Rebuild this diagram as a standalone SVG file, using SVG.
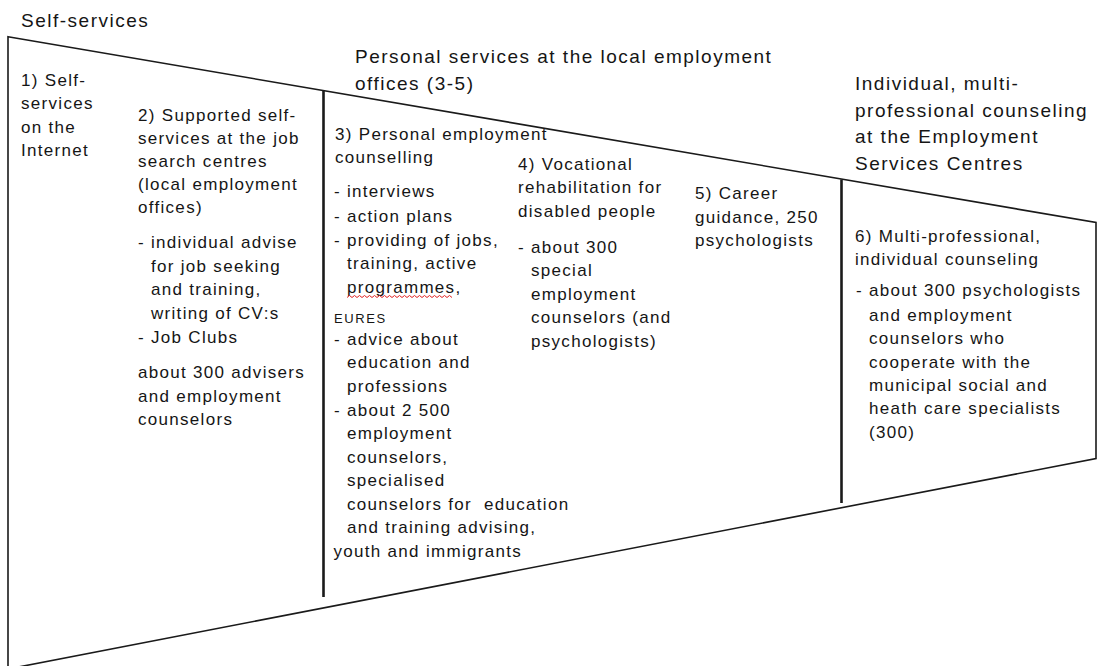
<svg xmlns="http://www.w3.org/2000/svg" width="1100" height="666" viewBox="0 0 1100 666">
<style>
text{font-family:"Liberation Sans",Arial,sans-serif;fill:#151515}
.t{font-size:19px;letter-spacing:1.5px}
.b{font-size:17px;letter-spacing:1.3px}
.s{font-size:13px;letter-spacing:1.6px}
.edge{fill:none;stroke:#1a1a1a;stroke-width:1.6}
.div{fill:none;stroke:#1a1a1a;stroke-width:2.6}
</style>
<rect width="1100" height="666" fill="#fff"/>
<g id="connectors">
<polygon class="edge" points="8,36.7 1096,222.5 1096,458.5 8,669"/>
<line class="div" x1="323.5" y1="90.5" x2="323.5" y2="597"/>
<line class="div" x1="841.5" y1="179.5" x2="841.5" y2="503"/>
</g>
<g id="title-self">
<text class="t" x="21" y="27">Self-services</text>
</g>
<g id="title-personal">
<text class="t" x="355" y="63">Personal services at the local employment</text>
<text class="t" x="355" y="90">offices (3-5)</text>
</g>
<g id="title-individual">
<text class="t" x="855" y="90">Individual, multi-</text>
<text class="t" x="855" y="116.5">professional counseling</text>
<text class="t" x="855" y="143">at the Employment</text>
<text class="t" x="855" y="170">Services Centres</text>
</g>
<g id="node1">
<text class="b" x="21" y="86">1) Self-</text>
<text class="b" x="21" y="109">services</text>
<text class="b" x="21" y="132.5">on the</text>
<text class="b" x="21" y="155.5">Internet</text>
</g>
<g id="node2">
<text class="b" x="138" y="121">2) Supported self-</text>
<text class="b" x="138" y="144">services at the job</text>
<text class="b" x="138" y="167">search centres</text>
<text class="b" x="138" y="189.5">(local employment</text>
<text class="b" x="138" y="212.5">offices)</text>
<text class="b" x="138" y="247.5">-</text>
<text class="b" x="151" y="247.5">individual advise</text>
<text class="b" x="151" y="271.5">for job seeking</text>
<text class="b" x="151" y="295">and training,</text>
<text class="b" x="151" y="319">writing of CV:s</text>
<text class="b" x="138" y="342.7">- Job Clubs</text>
<text class="b" x="138" y="378.3">about 300 advisers</text>
<text class="b" x="138" y="401.7">and employment</text>
<text class="b" x="138" y="425">counselors</text>
</g>
<g id="node3">
<text class="b" x="335" y="140">3) Personal employment</text>
<text class="b" x="335" y="163.3">counselling</text>
<text class="b" x="334" y="197.3">-</text>
<text class="b" x="347" y="197.3">interviews</text>
<text class="b" x="334" y="221.5">-</text>
<text class="b" x="347" y="221.5">action plans</text>
<text class="b" x="334" y="245.5">-</text>
<text class="b" x="347" y="245.5">providing of jobs,</text>
<text class="b" x="347" y="269.3">training, active</text>
<text class="b" x="347" y="293.3">programmes,</text>
<path d="M347,297.5 l2.5,-2 l2.5,2 l2.5,-2 l2.5,2 l2.5,-2 l2.5,2 l2.5,-2 l2.5,2 l2.5,-2 l2.5,2 l2.5,-2 l2.5,2 l2.5,-2 l2.5,2 l2.5,-2 l2.5,2 l2.5,-2 l2.5,2 l2.5,-2 l2.5,2 l2.5,-2 l2.5,2 l2.5,-2 l2.5,2 l2.5,-2 l2.5,2 l2.5,-2 l2.5,2 l2.5,-2 l2.5,2 l2.5,-2 l2.5,2 l2.5,-2 l2.5,2 l2.5,-2 l2.5,2 l2.5,-2 l2.5,2 l2.5,-2 l2.5,2 l2.5,-2 l2.5,2" fill="none" stroke="#e02020" stroke-width="1"/>
<text class="s" x="334" y="322.7">EURES</text>
<text class="b" x="334" y="345">- advice about</text>
<text class="b" x="347" y="368.3">education and</text>
<text class="b" x="347" y="391.7">professions</text>
<text class="b" x="334" y="416">- about 2 500</text>
<text class="b" x="347" y="439.3">employment</text>
<text class="b" x="347" y="462.7">counselors,</text>
<text class="b" x="347" y="486">specialised</text>
<text class="b" x="347" y="510" xml:space="preserve">counselors for  education</text>
<text class="b" x="347" y="533.3">and training advising,</text>
<text class="b" x="333.5" y="556.7">youth and immigrants</text>
</g>
<g id="node4">
<text class="b" x="518" y="170">4) Vocational</text>
<text class="b" x="518" y="193.3">rehabilitation for</text>
<text class="b" x="518" y="217.3">disabled people</text>
<text class="b" x="518" y="253.3">-</text>
<text class="b" x="531" y="253.3">about 300</text>
<text class="b" x="531" y="276.3">special</text>
<text class="b" x="531" y="300">employment</text>
<text class="b" x="531" y="323.3">counselors (and</text>
<text class="b" x="531" y="346.7">psychologists)</text>
</g>
<g id="node5">
<text class="b" x="695" y="199.3">5) Career</text>
<text class="b" x="695" y="223.3">guidance, 250</text>
<text class="b" x="695" y="246">psychologists</text>
</g>
<g id="node6">
<text class="b" x="855" y="241.7">6) Multi-professional,</text>
<text class="b" x="855" y="264.5">individual counseling</text>
<text class="b" x="856" y="296">-</text>
<text class="b" x="869" y="296">about 300 psychologists</text>
<text class="b" x="869" y="321">and employment</text>
<text class="b" x="869" y="344.3">counselors who</text>
<text class="b" x="869" y="367.7">cooperate with the</text>
<text class="b" x="869" y="391">municipal social and</text>
<text class="b" x="869" y="414.3">heath care specialists</text>
<text class="b" x="869" y="437.5">(300)</text>
</g>
</svg>
